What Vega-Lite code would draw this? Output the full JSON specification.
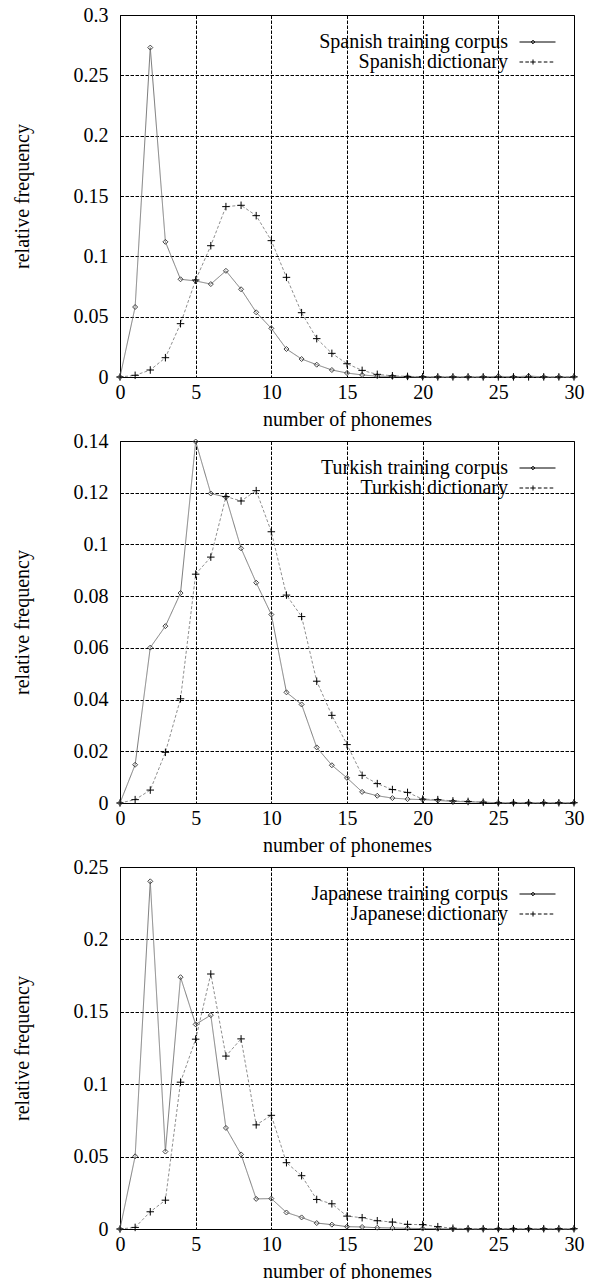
{
  "$schema": "https://vega.github.io/schema/vega-lite/v6.json",
  "background": "white",
  "padding": {"left": 11, "top": 4, "right": 0, "bottom": 0},
  "config": {
    "font": "Liberation Serif",
    "view": {"stroke": "black", "strokeWidth": 1},
    "axis": {
      "domain": false,
      "ticks": false,
      "labelFont": "Liberation Serif",
      "labelFontSize": 20,
      "labelColor": "black",
      "labelFlush": false,
      "labelOverlap": false,
      "titleFont": "Liberation Serif",
      "titleFontSize": 20,
      "titleFontWeight": "normal",
      "titleColor": "black",
      "grid": true,
      "gridColor": "black",
      "gridDash": [3.5, 1.5],
      "gridOpacity": 1,
      "gridWidth": 1
    },
    "axisX": {"labelPadding": 5, "titleY": 48, "titleBaseline": "alphabetic"},
    "axisY": {"labelPadding": 12, "titleX": -92, "titleY": 181, "titleAngle": -90, "titleAlign": "center", "titleBaseline": "alphabetic"},
    "legend": {
      "orient": "none",
      "legendX": 407.5,
      "legendY": 17,
      "padding": 0,
      "symbolSize": 324,
      "symbolStrokeWidth": 1,
      "labelAlign": "right",
      "labelOffset": -39.5,
      "rowPadding": 0,
      "labelFont": "Liberation Serif",
      "labelFontSize": 20,
      "labelColor": "black",
      "labelLimit": 0
    }
  },
  "datasets": {
    "spanish": [
      {"n": 0, "corpus": 0, "dict": 0},
      {"n": 1, "corpus": 0.058, "dict": 0.0014},
      {"n": 2, "corpus": 0.273, "dict": 0.0058},
      {"n": 3, "corpus": 0.112, "dict": 0.016},
      {"n": 4, "corpus": 0.081, "dict": 0.0442},
      {"n": 5, "corpus": 0.0796, "dict": 0.0804},
      {"n": 6, "corpus": 0.077, "dict": 0.1088},
      {"n": 7, "corpus": 0.088, "dict": 0.1412},
      {"n": 8, "corpus": 0.0727, "dict": 0.1423},
      {"n": 9, "corpus": 0.0536, "dict": 0.1337},
      {"n": 10, "corpus": 0.0403, "dict": 0.113},
      {"n": 11, "corpus": 0.0232, "dict": 0.0826},
      {"n": 12, "corpus": 0.0149, "dict": 0.0533},
      {"n": 13, "corpus": 0.0102, "dict": 0.0318},
      {"n": 14, "corpus": 0.0058, "dict": 0.0196},
      {"n": 15, "corpus": 0.0033, "dict": 0.011},
      {"n": 16, "corpus": 0.0017, "dict": 0.0055},
      {"n": 17, "corpus": 0.0007, "dict": 0.0022},
      {"n": 18, "corpus": 0.0004, "dict": 0.001},
      {"n": 19, "corpus": 0.0002, "dict": 0.0005},
      {"n": 20, "corpus": 0.0001, "dict": 0.0002},
      {"n": 21, "corpus": 0.0001, "dict": 0.0001},
      {"n": 22, "corpus": 0.0001, "dict": 0.0001},
      {"n": 23, "corpus": 0.0001, "dict": 0.0001},
      {"n": 24, "corpus": 0.0001, "dict": 0.0001},
      {"n": 25, "corpus": 0.0006, "dict": 0.0001},
      {"n": 26, "corpus": 0.0001, "dict": 0.0001},
      {"n": 27, "corpus": 0.0008, "dict": 0.0001},
      {"n": 28, "corpus": 0.0001, "dict": 0.0001},
      {"n": 29, "corpus": 0.0001, "dict": 0.0001},
      {"n": 30, "corpus": 0.0001, "dict": 0.0001}
    ],
    "turkish": [
      {"n": 0, "corpus": 0, "dict": 0},
      {"n": 1, "corpus": 0.0148, "dict": 0.0013},
      {"n": 2, "corpus": 0.0601, "dict": 0.005},
      {"n": 3, "corpus": 0.0684, "dict": 0.0196},
      {"n": 4, "corpus": 0.0812, "dict": 0.0403},
      {"n": 5, "corpus": 0.1398, "dict": 0.0885},
      {"n": 6, "corpus": 0.1197, "dict": 0.0951},
      {"n": 7, "corpus": 0.1183, "dict": 0.1185},
      {"n": 8, "corpus": 0.0985, "dict": 0.1168},
      {"n": 9, "corpus": 0.0852, "dict": 0.1208},
      {"n": 10, "corpus": 0.0729, "dict": 0.1049},
      {"n": 11, "corpus": 0.0428, "dict": 0.0804},
      {"n": 12, "corpus": 0.0381, "dict": 0.0721},
      {"n": 13, "corpus": 0.0215, "dict": 0.0471},
      {"n": 14, "corpus": 0.0146, "dict": 0.0339},
      {"n": 15, "corpus": 0.0097, "dict": 0.0226},
      {"n": 16, "corpus": 0.0043, "dict": 0.0107},
      {"n": 17, "corpus": 0.0028, "dict": 0.0075},
      {"n": 18, "corpus": 0.0019, "dict": 0.0052},
      {"n": 19, "corpus": 0.0015, "dict": 0.0041},
      {"n": 20, "corpus": 0.0013, "dict": 0.0015},
      {"n": 21, "corpus": 0.001, "dict": 0.0013},
      {"n": 22, "corpus": 0.0006, "dict": 0.0008},
      {"n": 23, "corpus": 0.0005, "dict": 0.0006},
      {"n": 24, "corpus": 0.0003, "dict": 0.0003},
      {"n": 25, "corpus": 0.0001, "dict": 0.0001},
      {"n": 26, "corpus": 0.0001, "dict": 0.0001},
      {"n": 27, "corpus": 0.0001, "dict": 0.0001},
      {"n": 28, "corpus": 0.0001, "dict": 0.0001},
      {"n": 29, "corpus": 0.0001, "dict": 0.0001},
      {"n": 30, "corpus": 0.0001, "dict": 0.0001}
    ],
    "japanese": [
      {"n": 0, "corpus": 0, "dict": 0},
      {"n": 1, "corpus": 0.0502, "dict": 0.0011},
      {"n": 2, "corpus": 0.2401, "dict": 0.0119},
      {"n": 3, "corpus": 0.0535, "dict": 0.0199},
      {"n": 4, "corpus": 0.1739, "dict": 0.1014},
      {"n": 5, "corpus": 0.1413, "dict": 0.1311},
      {"n": 6, "corpus": 0.1477, "dict": 0.1761},
      {"n": 7, "corpus": 0.0698, "dict": 0.1194},
      {"n": 8, "corpus": 0.0515, "dict": 0.1313},
      {"n": 9, "corpus": 0.0208, "dict": 0.0719},
      {"n": 10, "corpus": 0.021, "dict": 0.0785},
      {"n": 11, "corpus": 0.0114, "dict": 0.0458},
      {"n": 12, "corpus": 0.008, "dict": 0.0368},
      {"n": 13, "corpus": 0.0041, "dict": 0.0204},
      {"n": 14, "corpus": 0.003, "dict": 0.0174},
      {"n": 15, "corpus": 0.0016, "dict": 0.0089},
      {"n": 16, "corpus": 0.0014, "dict": 0.0078},
      {"n": 17, "corpus": 0.0009, "dict": 0.0057},
      {"n": 18, "corpus": 0.0007, "dict": 0.0048},
      {"n": 19, "corpus": 0.0005, "dict": 0.0032},
      {"n": 20, "corpus": 0.0003, "dict": 0.003},
      {"n": 21, "corpus": 0.0002, "dict": 0.0016},
      {"n": 22, "corpus": 0.0001, "dict": 0.0005},
      {"n": 23, "corpus": 0.0001, "dict": 0.0002},
      {"n": 24, "corpus": 0.0001, "dict": 0.0002},
      {"n": 25, "corpus": 0.0001, "dict": 0.0002},
      {"n": 26, "corpus": 0.0001, "dict": 0.0002},
      {"n": 27, "corpus": 0.0001, "dict": 0.0002},
      {"n": 28, "corpus": 0.0001, "dict": 0.0002},
      {"n": 29, "corpus": 0.0001, "dict": 0.0002},
      {"n": 30, "corpus": 0.0001, "dict": 0.0002}
    ]
  },
  "spacing": 64,
  "bounds": "flush",
  "resolve": {
    "scale": {"shape": "independent", "strokeDash": "independent", "color": "independent", "stroke": "independent", "opacity": "independent"},
    "legend": {"opacity": "independent"}
  },
  "vconcat": [
    {
      "width": 454,
      "height": 362,
      "data": {"name": "spanish"},
      "transform": [{"fold": ["corpus", "dict"], "as": ["series", "freq"]}],
      "encoding": {
        "x": {"field": "n", "type": "quantitative", "scale": {"domain": [0, 30], "nice": false}, "axis": {"values": [0, 5, 10, 15, 20, 25, 30], "title": "number of phonemes"}},
        "y": {"field": "freq", "type": "quantitative", "scale": {"domain": [0, 0.3], "nice": false, "zero": true}, "axis": {"values": [0, 0.05, 0.1, 0.15, 0.2, 0.25, 0.3], "format": "~g", "title": "relative frequency"}}
      },
      "layer": [
        {
          "mark": {"type": "line", "strokeWidth": 1},
          "encoding": {
            "strokeDash": {"field": "series", "type": "nominal", "scale": {"domain": ["dict", "corpus"], "range": [[3, 2], [1, 0]]}, "legend": null},
            "color": {"field": "series", "type": "nominal", "scale": {"domain": ["dict", "corpus"], "range": ["#8f8f8f", "#7a7a7a"]}, "legend": null}
          }
        },
        {
          "mark": {"type": "point", "filled": false, "strokeWidth": 1, "size": 25},
          "encoding": {
            "stroke": {"field": "series", "type": "nominal", "scale": {"domain": ["dict", "corpus"], "range": ["#000000", "#444444"]}, "legend": null},
            "shape": {"field": "series", "type": "nominal", "scale": {"domain": ["dict", "corpus"], "range": ["M-1.5,0H1.5M0,-1.5V1.5", "diamond"]}, "legend": null},
            "opacity": {
              "field": "series", "type": "nominal",
              "scale": {"domain": ["corpus", "dict"], "range": [1, 1]},
              "legend": {
                "title": null,
                "labelExpr": "datum.value === 'corpus' ? 'Spanish training corpus' : 'Spanish dictionary'",
                "encoding": {"symbols": {
                  "shape": {"value": {"expr": "datum.value === 'corpus' ? 'M-2,0H2M-0.5,-0.2L-0.3,0L-0.5,0.2L-0.7,0Z' : 'M-2,0H-1.6M-1.35,0H-0.95M-0.8,0H-0.2M-0.5,-0.28V0.28M0.05,0H0.45M0.7,0H1.1M1.35,0H1.75'"}},
                  "size": {"value": 324},
                  "stroke": {"value": "black"},
                  "fill": {"value": "transparent"},
                  "strokeWidth": {"value": 1}
                }}
              }
            }
          }
        }
      ]
    },
    {
      "width": 454,
      "height": 362,
      "data": {"name": "turkish"},
      "transform": [{"fold": ["corpus", "dict"], "as": ["series", "freq"]}],
      "encoding": {
        "x": {"field": "n", "type": "quantitative", "scale": {"domain": [0, 30], "nice": false}, "axis": {"values": [0, 5, 10, 15, 20, 25, 30], "title": "number of phonemes"}},
        "y": {"field": "freq", "type": "quantitative", "scale": {"domain": [0, 0.14], "nice": false, "zero": true}, "axis": {"values": [0, 0.02, 0.04, 0.06, 0.08, 0.1, 0.12, 0.14], "format": "~g", "title": "relative frequency"}}
      },
      "layer": [
        {
          "mark": {"type": "line", "strokeWidth": 1},
          "encoding": {
            "strokeDash": {"field": "series", "type": "nominal", "scale": {"domain": ["dict", "corpus"], "range": [[3, 2], [1, 0]]}, "legend": null},
            "color": {"field": "series", "type": "nominal", "scale": {"domain": ["dict", "corpus"], "range": ["#8f8f8f", "#7a7a7a"]}, "legend": null}
          }
        },
        {
          "mark": {"type": "point", "filled": false, "strokeWidth": 1, "size": 25},
          "encoding": {
            "stroke": {"field": "series", "type": "nominal", "scale": {"domain": ["dict", "corpus"], "range": ["#000000", "#444444"]}, "legend": null},
            "shape": {"field": "series", "type": "nominal", "scale": {"domain": ["dict", "corpus"], "range": ["M-1.5,0H1.5M0,-1.5V1.5", "diamond"]}, "legend": null},
            "opacity": {
              "field": "series", "type": "nominal",
              "scale": {"domain": ["corpus", "dict"], "range": [1, 1]},
              "legend": {
                "title": null,
                "labelExpr": "datum.value === 'corpus' ? 'Turkish training corpus' : 'Turkish dictionary'",
                "encoding": {"symbols": {
                  "shape": {"value": {"expr": "datum.value === 'corpus' ? 'M-2,0H2M-0.5,-0.2L-0.3,0L-0.5,0.2L-0.7,0Z' : 'M-2,0H-1.6M-1.35,0H-0.95M-0.8,0H-0.2M-0.5,-0.28V0.28M0.05,0H0.45M0.7,0H1.1M1.35,0H1.75'"}},
                  "size": {"value": 324},
                  "stroke": {"value": "black"},
                  "fill": {"value": "transparent"},
                  "strokeWidth": {"value": 1}
                }}
              }
            }
          }
        }
      ]
    },
    {
      "width": 454,
      "height": 362,
      "data": {"name": "japanese"},
      "transform": [{"fold": ["corpus", "dict"], "as": ["series", "freq"]}],
      "encoding": {
        "x": {"field": "n", "type": "quantitative", "scale": {"domain": [0, 30], "nice": false}, "axis": {"values": [0, 5, 10, 15, 20, 25, 30], "title": "number of phonemes"}},
        "y": {"field": "freq", "type": "quantitative", "scale": {"domain": [0, 0.25], "nice": false, "zero": true}, "axis": {"values": [0, 0.05, 0.1, 0.15, 0.2, 0.25], "format": "~g", "title": "relative frequency"}}
      },
      "layer": [
        {
          "mark": {"type": "line", "strokeWidth": 1},
          "encoding": {
            "strokeDash": {"field": "series", "type": "nominal", "scale": {"domain": ["dict", "corpus"], "range": [[3, 2], [1, 0]]}, "legend": null},
            "color": {"field": "series", "type": "nominal", "scale": {"domain": ["dict", "corpus"], "range": ["#8f8f8f", "#7a7a7a"]}, "legend": null}
          }
        },
        {
          "mark": {"type": "point", "filled": false, "strokeWidth": 1, "size": 25},
          "encoding": {
            "stroke": {"field": "series", "type": "nominal", "scale": {"domain": ["dict", "corpus"], "range": ["#000000", "#444444"]}, "legend": null},
            "shape": {"field": "series", "type": "nominal", "scale": {"domain": ["dict", "corpus"], "range": ["M-1.5,0H1.5M0,-1.5V1.5", "diamond"]}, "legend": null},
            "opacity": {
              "field": "series", "type": "nominal",
              "scale": {"domain": ["corpus", "dict"], "range": [1, 1]},
              "legend": {
                "title": null,
                "labelExpr": "datum.value === 'corpus' ? 'Japanese training corpus' : 'Japanese dictionary'",
                "encoding": {"symbols": {
                  "shape": {"value": {"expr": "datum.value === 'corpus' ? 'M-2,0H2M-0.5,-0.2L-0.3,0L-0.5,0.2L-0.7,0Z' : 'M-2,0H-1.6M-1.35,0H-0.95M-0.8,0H-0.2M-0.5,-0.28V0.28M0.05,0H0.45M0.7,0H1.1M1.35,0H1.75'"}},
                  "size": {"value": 324},
                  "stroke": {"value": "black"},
                  "fill": {"value": "transparent"},
                  "strokeWidth": {"value": 1}
                }}
              }
            }
          }
        }
      ]
    }
  ]
}
